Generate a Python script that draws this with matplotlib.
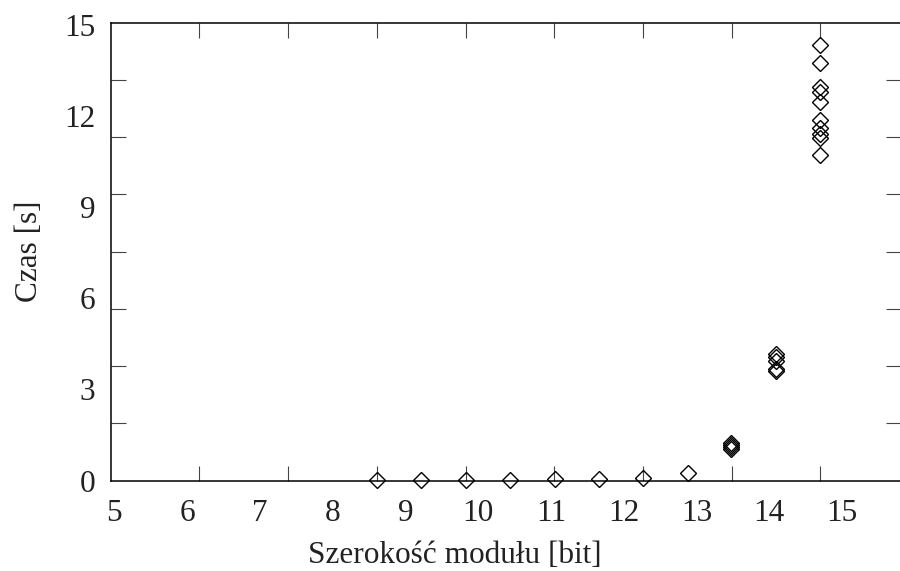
import matplotlib
matplotlib.use("Agg")
import matplotlib.pyplot as plt

plt.rcParams['font.family'] = ['Liberation Serif', 'DejaVu Serif']

# module width (as read against the printed axis labels) and measured times
widths = [8.61, 9.22, 9.83, 10.44, 11.05, 11.66, 12.27, 12.88, 13.48, 14.09, 14.70]
times = [
    [0.02],
    [0.02],
    [0.03],
    [0.03],
    [0.04],
    [0.05],
    [0.08],
    [0.24],
    [1.24, 1.16, 1.10, 1.05],
    [4.15, 4.05, 3.93, 3.68, 3.60],
    [14.33, 13.73, 12.96, 12.79, 12.46, 11.86, 11.59, 11.42, 11.26, 10.71],
]

xticklabels = [5, 6, 7, 8, 9, 10, 11, 12, 13, 14, 15]
yticklabels = [0, 3, 6, 9, 12, 15]

xs = []
ys = []
for w, t in zip(widths, times):
    for v in t:
        xs.append(w)
        ys.append(v)

fig = plt.figure(figsize=(9, 5.71), dpi=100)
ax = fig.add_axes([110.7 / 900, (571 - 480.5) / 571, (901 - 110.7) / 900, (480.5 - 22.7) / 571])

ax.plot(xs, ys, linestyle='none', marker='D', markersize=8.2,
        markerfacecolor='none', markeredgecolor='black', markeredgewidth=1.0,
        clip_on=False, zorder=5)

x0, x1 = 4.95, 15.81
y0, y1 = 0.0, 15.07
ax.set_xlim(x0, x1)
ax.set_ylim(y0, y1)

fs = 22.5

# labelled ticks without marks
ax.set_xticks(xticklabels)
ax.set_yticks(yticklabels)
ax.tick_params(axis='both', which='major', length=0, labelsize=fs, colors='#222222')
ax.tick_params(axis='x', which='major', pad=13.5)
ax.tick_params(axis='y', which='major', pad=11)

# unlabelled tick marks on all four sides
xstep = 88.7 / 72.76
ystep = (y1 - y0) / 8
ax.set_xticks([x0 + xstep * k for k in range(1, 9)], minor=True)
ax.set_yticks([y0 + ystep * k for k in range(1, 8)], minor=True)
ax.tick_params(which='minor', direction='in', length=11, width=0.8, color='#444444',
               top=True, right=True, labelbottom=False, labelleft=False)

for s in ax.spines.values():
    s.set_linewidth(1.1)

ax.set_xlabel('Szerokość modułu [bit]', fontsize=fs, color='#222222')
ax.xaxis.set_label_coords((455 - 110.7) / (901 - 110.7), -0.132)
ax.set_ylabel('Czas [s]', fontsize=fs, color='#222222')
ax.yaxis.set_label_coords(-(110.7 - 44) / (901 - 110.7), 0.5)

fig.savefig('out.png', dpi=100)
